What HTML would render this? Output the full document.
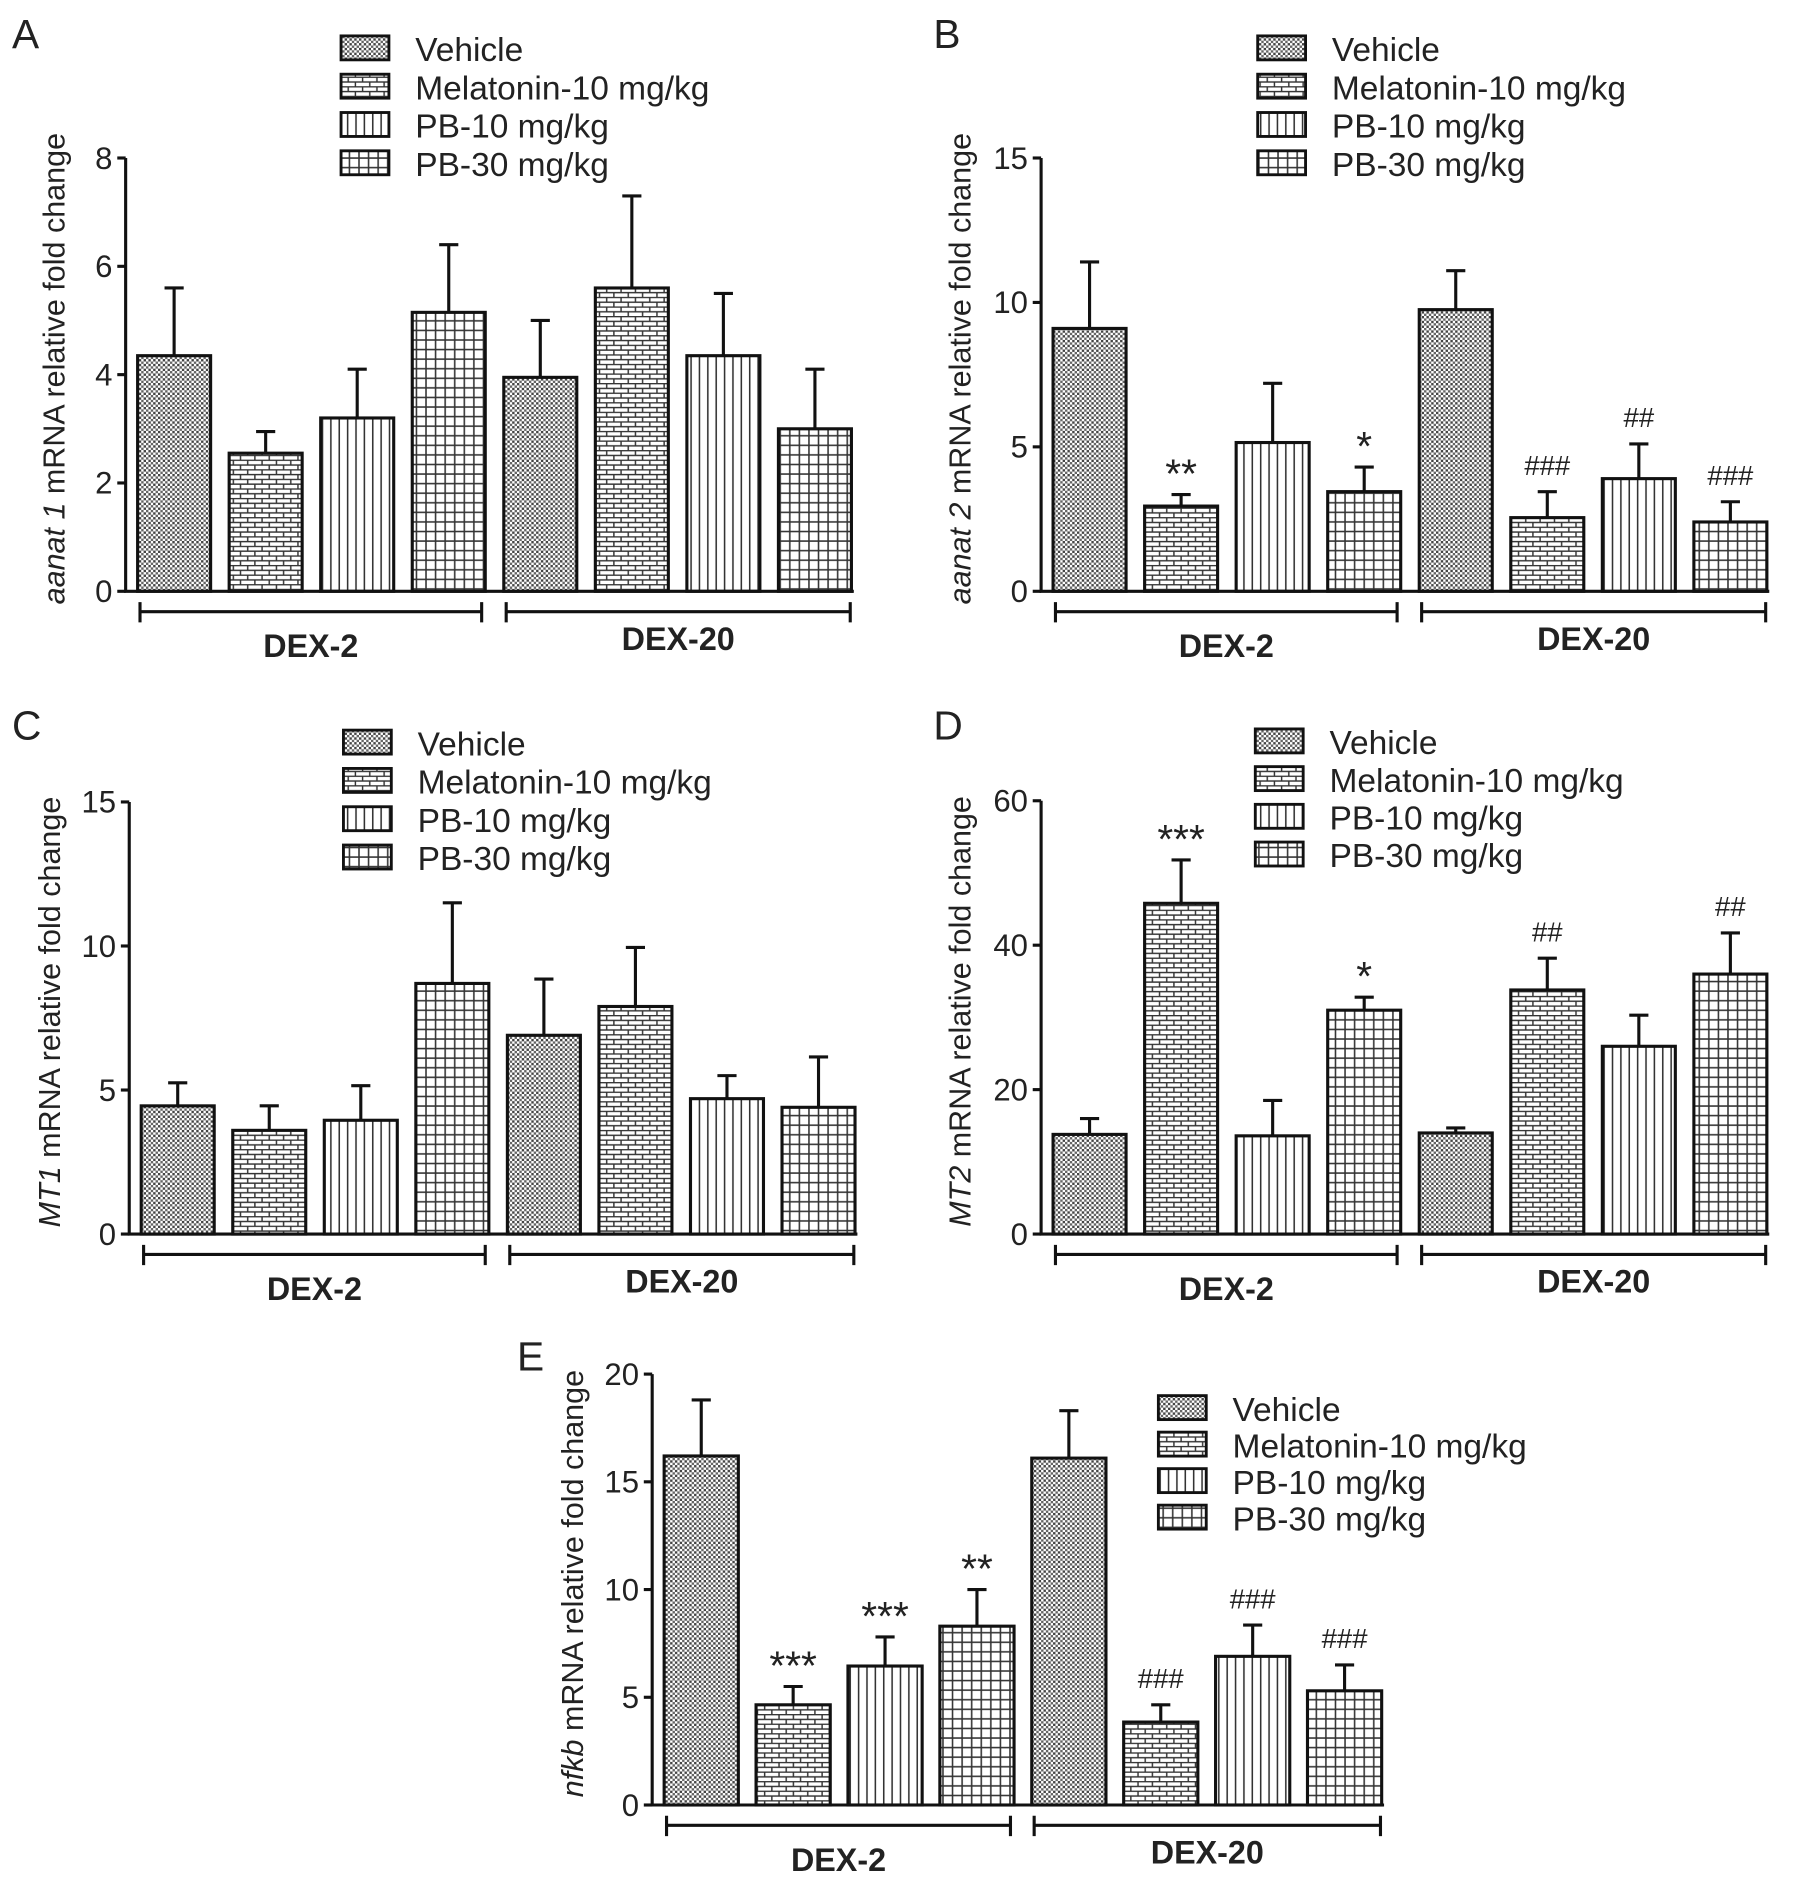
<!DOCTYPE html>
<html><head><meta charset="utf-8"><style>
html,body{margin:0;padding:0;background:#fff}
svg{display:block}
text{font-family:"Liberation Sans",Arial,sans-serif;fill:#222}
</style></head><body>
<svg id="fig" width="1795" height="1884" viewBox="0 0 1500 1574" preserveAspectRatio="none" xmlns="http://www.w3.org/2000/svg">
<defs>
<pattern id="p-veh" width="4" height="4" patternUnits="userSpaceOnUse"><rect width="4" height="4" fill="#fff"/><rect width="2" height="2" fill="#444"/><rect x="2" y="2" width="2" height="2" fill="#666"/></pattern>
<pattern id="p-mel" width="12" height="8" patternUnits="userSpaceOnUse"><rect width="12" height="8" fill="#fff"/><path d="M0 0.5H12M0 4.5H12M3 0V4M9 4V8" stroke="#333" stroke-width="1.2" fill="none"/></pattern>
<pattern id="p-pb10" width="7" height="7" patternUnits="userSpaceOnUse"><rect width="7" height="7" fill="#fff"/><path d="M3.5 0V7" stroke="#333" stroke-width="1.3"/></pattern>
<pattern id="p-pb30" width="8" height="8" patternUnits="userSpaceOnUse"><rect width="8" height="8" fill="#fff"/><path d="M4 0V8M0 4H8" stroke="#333" stroke-width="1.3"/></pattern>
</defs>
</svg>
<script>
const seriesNames = ["Vehicle","Melatonin-10 mg/kg","PB-10 mg/kg","PB-30 mg/kg"];
const groupNames = ["DEX-2","DEX-20"];
const aValues = [4.35,2.55,3.2,5.15,3.95,5.6,4.35,3.0];
const aErrors = [5.6,2.95,4.1,6.4,5.0,7.3,5.5,4.1];
const aAnnot = ["","","","","","","",""];
const aTicks = [0,2,4,6,8];
const bValues = [9.1,2.95,5.15,3.45,9.75,2.55,3.9,2.4];
const bErrors = [11.4,3.35,7.2,4.3,11.1,3.45,5.1,3.1];
const bAnnot = ["","**","","*","","###","##","###"];
const bTicks = [0,5,10,15];
const cValues = [4.45,3.6,3.95,8.7,6.9,7.9,4.7,4.4];
const cErrors = [5.25,4.45,5.15,11.5,8.85,9.95,5.5,6.15];
const cAnnot = ["","","","","","","",""];
const cTicks = [0,5,10,15];
const dValues = [13.8,45.8,13.6,31,14,33.8,26,36];
const dErrors = [16,51.8,18.5,32.8,14.7,38.2,30.3,41.7];
const dAnnot = ["","***","","*","","##","","##"];
const dTicks = [0,20,40,60];
const eValues = [16.2,4.65,6.45,8.3,16.1,3.85,6.9,5.3];
const eErrors = [18.8,5.5,7.8,10,18.3,4.65,8.35,6.5];
const eAnnot = ["","***","***","**","","###","###","###"];
const eTicks = [0,5,10,15,20];

const svg = document.getElementById('fig');
const NS = "http://www.w3.org/2000/svg";
const pats = ["url(#p-veh)","url(#p-mel)","url(#p-pb10)","url(#p-pb30)"];
function mk(tag, attrs, parent){const e=document.createElementNS(NS,tag);for(const k in attrs)e.setAttribute(k,attrs[k]);(parent||svg).appendChild(e);return e;}

function panel(o){
  const g = mk('g',{});
  
  
  const yMax = o.ticks[o.ticks.length-1];
  const y = v => o.y0 - (v/yMax)*(o.y0-o.yTop);
  const xs = i => o.x0 + 10 + i*o.step;
  const bw = o.bw;
  const L = mk('text',{x:o.lx,y:o.ly,'font-size':34},g); L.textContent=o.id;
  
  
  o.values.forEach((v,i)=>{
    const bx = xs(i), cx = bx+bw/2;
    const eb = mk('path',{d:`M${cx} ${y(v)}V${y(o.errors[i])}M${cx-8} ${y(o.errors[i])}H${cx+8}`,stroke:'#111','stroke-width':2.6,fill:'none'},g);
    
    
    const r = mk('rect',{x:bx,y:y(v),width:bw,height:o.y0-y(v),fill:pats[i%4],stroke:'#111','stroke-width':2.6},g);
    
    
    if(o.annot[i]){
      const isHash = o.annot[i].includes('#');
      const t = mk('text',{x:cx,y:y(o.errors[i])-(isHash?14:6),'text-anchor':'middle','font-size':isHash?23:34},g);
      t.textContent=o.annot[i];
      
      
    }
  });
  const ax = mk('path',{d:`M${o.x0} ${o.yTop}V${o.y0}H${xs(7)+bw+2}`,stroke:'#111','stroke-width':2.6,fill:'none'},g);
  
  
  o.ticks.forEach(t=>{
    mk('path',{d:`M${o.x0-7} ${y(t)}H${o.x0}`,stroke:'#111','stroke-width':2.6},g);
    const tl = mk('text',{x:o.x0-11,y:y(t)+9,'text-anchor':'end','font-size':26,fill:'#333'},g);
    tl.textContent=t;
    
    
  });
  const yl = mk('text',{transform:`translate(${o.ylx},${o.yTop+(o.y0-o.yTop)/2-5}) rotate(-90)`,'text-anchor':'middle','font-size':25.5,fill:'#222'},g);
  yl.innerHTML = `<tspan font-style="italic">${o.gene}</tspan> mRNA relative fold change`;
  
  
  const by = o.y0+17;
  [[xs(0)+2,xs(3)+bw-3],[xs(4)+2,xs(7)+bw-1]].forEach((b,j)=>{
    const br = mk('path',{d:`M${b[0]} ${by-8}V${by+9}M${b[0]} ${by}H${b[1]}M${b[1]} ${by-8}V${by+9}`,stroke:'#111','stroke-width':2.6,fill:'none'},g);
    
    
    const gl = mk('text',{x:(b[0]+b[1])/2,y:by+(j===0?38:32),'text-anchor':'middle','font-size':27,'font-weight':'600',fill:'#222'},g);
    gl.textContent=groupNames[j];
    
    
  });
  seriesNames.forEach((s,i)=>{
    const ly = o.legY + i*o.legGap;
    const lr = mk('rect',{x:o.legX,y:ly,width:40,height:20,fill:pats[i],stroke:'#111','stroke-width':2.4},g);
    
    
    const lt = mk('text',{x:o.legX+62,y:ly+21,'font-size':28,fill:'#3a3a3a'},g);
    lt.textContent=s;
    
    
  });
}
panel({id:'A',gene:'aanat 1',values:aValues,errors:aErrors,annot:aAnnot,ticks:aTicks,x0:105,y0:494,yTop:132,step:76.5,bw:61,lx:10,ly:40,ylx:54,legX:285,legY:30,legGap:32});
panel({id:'B',gene:'aanat 2',values:bValues,errors:bErrors,annot:bAnnot,ticks:bTicks,x0:870,y0:494,yTop:132,step:76.5,bw:61,lx:780,ly:40,ylx:811,legX:1051,legY:30,legGap:32});
panel({id:'C',gene:'MT1',values:cValues,errors:cErrors,annot:cAnnot,ticks:cTicks,x0:108,y0:1031,yTop:670,step:76.5,bw:61,lx:10,ly:618,ylx:50,legX:287,legY:610,legGap:32});
panel({id:'D',gene:'MT2',values:dValues,errors:dErrors,annot:dAnnot,ticks:dTicks,x0:870,y0:1031,yTop:669,step:76.5,bw:61,lx:780,ly:618,ylx:811,legX:1049,legY:609,legGap:31.5});
panel({id:'E',gene:'nfkb',values:eValues,errors:eErrors,annot:eAnnot,ticks:eTicks,x0:545,y0:1508,yTop:1148,step:76.8,bw:62,lx:432,ly:1145,ylx:487,legX:968,legY:1166,legGap:30.5});
</script>
</body></html>
